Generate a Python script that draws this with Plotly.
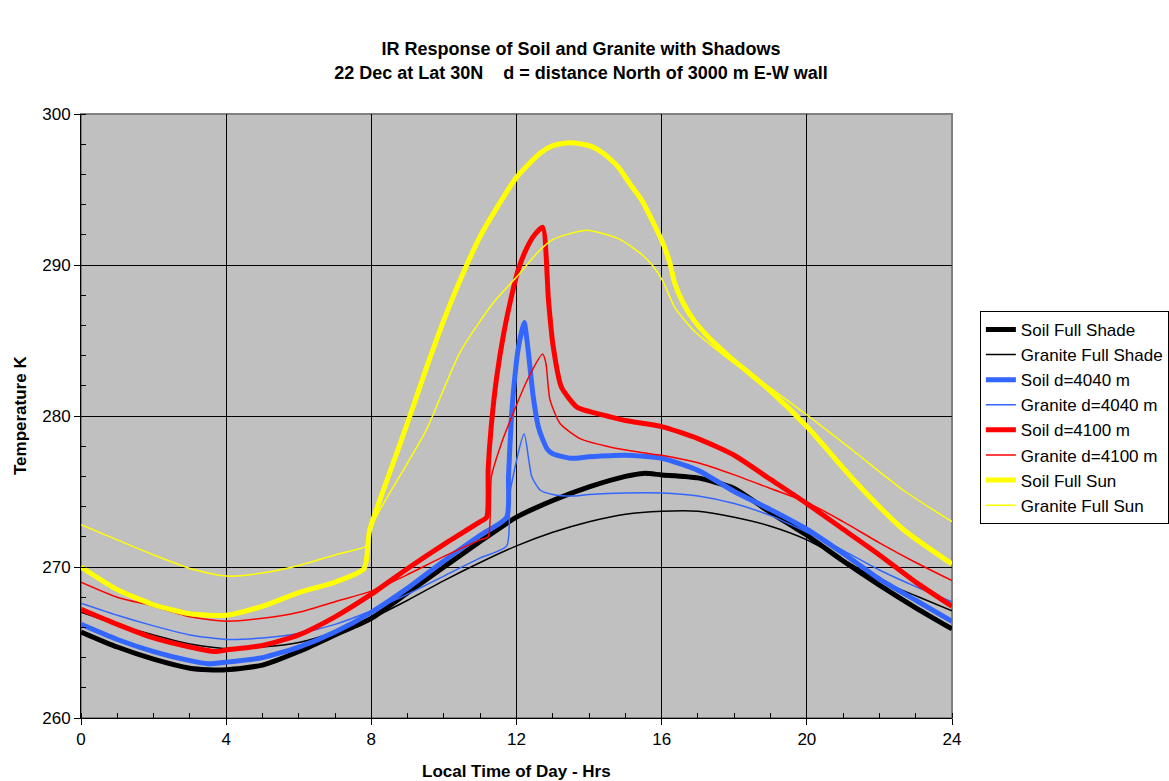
import plotly.graph_objects as go

# Local time (hours) and surface temperature (K) for each series
t_soil_shade = [0, 1, 2, 3, 3.5, 4, 5, 6, 7, 8, 9, 10, 11, 12, 13, 14, 15, 15.5, 16, 17, 18, 19, 20, 21, 22, 23, 24]
soil_shade = [265.7, 264.7, 263.9, 263.3, 263.2, 263.2, 263.5, 264.4, 265.5, 266.6, 268.3, 270.0, 271.7, 273.3, 274.4,
              275.3, 276.0, 276.2, 276.1, 275.9, 275.2, 273.6, 272.1, 270.4, 268.8, 267.3, 265.9]

t_gran_shade = [0, 1, 2, 3, 4, 5, 6, 7, 8, 9, 10, 11, 12, 13, 14, 15, 16, 17, 18, 19, 20, 21, 22, 23, 24]
gran_shade = [267.0, 266.2, 265.5, 264.9, 264.6, 264.7, 265.0, 265.7, 266.6, 267.8, 269.1, 270.3, 271.4, 272.3, 273.0,
              273.5, 273.7, 273.7, 273.3, 272.7, 271.8, 270.5, 269.1, 268.1, 267.1]

t_soil_4040 = [0, 1, 2, 3, 3.5, 4, 5, 6, 7, 8, 9, 10, 11, 11.73, 11.78, 11.85, 11.93, 12.05, 12.21, 12.3, 12.46, 12.6,
               12.73, 12.85, 13.0, 13.5, 14, 15, 16, 17, 18, 19, 20, 21, 22, 23, 24]
soil_4040 = [266.2, 265.2, 264.4, 263.8, 263.6, 263.7, 264.0, 264.7, 265.7, 267.0, 268.6, 270.4, 272.1, 273.3, 276.0,
             279.5, 282.0, 284.5, 286.2, 284.8, 281.3, 279.3, 278.4, 277.8, 277.5, 277.2, 277.3, 277.4, 277.2, 276.4,
             275.0, 273.8, 272.5, 270.9, 269.2, 267.8, 266.4]

t_gran_4040 = [0, 1, 2, 3, 4, 5, 6, 7, 8, 9, 10, 11, 11.73, 11.82, 12.21, 12.42, 12.65, 13.0, 13.5, 14, 15, 16, 17, 18,
               19, 20, 21, 22, 23, 24]
gran_4040 = [267.6, 266.8, 266.1, 265.5, 265.2, 265.3, 265.6, 266.2, 267.1, 268.2, 269.4, 270.6, 271.4, 274.9, 278.8,
             276.0, 275.1, 274.8, 274.7, 274.8, 274.9, 274.9, 274.7, 274.2, 273.4, 272.3, 271.1, 269.8, 268.7, 267.7]

t_soil_4100 = [0, 1, 2, 3, 3.7, 4, 5, 6, 7, 8, 9, 10, 11, 11.18, 11.22, 11.3, 11.45, 11.65, 11.85, 12.05, 12.3, 12.5,
               12.72, 12.88, 13.0, 13.24, 13.66, 14, 14.5, 15, 16, 17, 18, 19, 20, 21, 22, 23, 24]
soil_4100 = [267.2, 266.2, 265.3, 264.7, 264.4, 264.5, 264.8, 265.5, 266.7, 268.2, 269.9, 271.5, 273.0, 273.3, 276.5,
             279.2, 282.5, 285.5, 287.8, 289.7, 291.2, 292.0, 292.5, 287.7, 284.8, 281.9, 280.6, 280.3, 280.0, 279.7,
             279.3, 278.5, 277.4, 275.8, 274.2, 272.5, 270.8, 269.0, 267.4]

t_gran_4100 = [0, 1, 2, 3, 4, 5, 6, 7, 8, 9, 10, 11, 11.22, 11.31, 11.6, 11.91, 12.3, 12.72, 12.81, 12.92, 13.2, 13.75,
               14.66, 15.4, 16, 17, 18, 19, 20, 21, 22, 23, 24]
gran_4100 = [269.0, 268.0, 267.4, 266.7, 266.4, 266.6, 267.0, 267.7, 268.4, 269.5, 270.7, 271.8, 272.0, 276.0, 278.3,
             280.2, 282.4, 284.1, 283.5, 281.1, 279.5, 278.5, 277.9, 277.6, 277.4, 276.9, 276.1, 275.2, 274.3, 273.0,
             271.6, 270.3, 269.1]

t_soil_sun = [0, 1, 2, 3, 4, 5, 6, 7, 7.8, 7.95, 8.5, 9.02, 9.52, 10.07, 10.63, 11.0, 11.36, 12.0, 12.65, 13.0, 13.47,
              14.0, 14.39, 14.8, 15.12, 15.45, 15.77, 16.04, 16.23, 16.36, 16.59, 16.87, 17.3, 17.88, 18.98, 20.04,
              21.28, 22.65, 24]
soil_sun = [270.0, 268.5, 267.5, 266.9, 266.8, 267.4, 268.3, 269.0, 269.9, 272.4, 276.2, 279.7, 283.2, 286.8, 290.0,
            291.9, 293.4, 295.8, 297.4, 297.9, 298.1, 297.9, 297.4, 296.5, 295.4, 294.3, 292.8, 291.4, 290.1, 288.8,
            287.5, 286.4, 285.2, 283.9, 281.7, 279.2, 275.8, 272.5, 270.2]

t_gran_sun = [0, 1, 2, 3, 4, 5, 6, 7, 7.8, 7.87, 8.0, 8.24, 9.0, 9.52, 10.44, 11.36, 12.0, 12.65, 13.01, 13.93, 14.85,
              15.5, 15.77, 16.04, 16.36, 16.87, 17.88, 18.8, 20.04, 21.28, 22.65, 24]
gran_sun = [272.8, 271.8, 270.8, 269.9, 269.4, 269.6, 270.1, 270.8, 271.3, 271.4, 272.6, 273.8, 276.9, 279.1, 284.2,
            287.5, 289.2, 291.0, 291.7, 292.3, 291.7, 290.6, 289.9, 288.9, 287.2, 285.7, 283.7, 282.2, 280.0, 277.7,
            275.1, 273.0]

series = [
    ("Soil Full Shade", t_soil_shade, soil_shade, "#000000", 5),
    ("Granite Full Shade", t_gran_shade, gran_shade, "#000000", 1.5),
    ("Soil d=4040 m", t_soil_4040, soil_4040, "#3366FF", 5),
    ("Granite d=4040 m", t_gran_4040, gran_4040, "#3366FF", 1.5),
    ("Soil d=4100 m", t_soil_4100, soil_4100, "#FF0000", 5),
    ("Granite d=4100 m", t_gran_4100, gran_4100, "#FF0000", 1.5),
    ("Soil Full Sun", t_soil_sun, soil_sun, "#FFFF00", 5),
    ("Granite Full Sun", t_gran_sun, gran_sun, "#FFFF00", 1.5),
]

FONT = "Arial, 'Liberation Sans', sans-serif"

fig = go.Figure()
for name, t, v, color, width in series:
    fig.add_trace(go.Scatter(x=t, y=v, mode="lines", name=name,
                             line=dict(color=color, width=width, shape="spline", smoothing=0.6)))

axis_common = dict(
    showline=True, linecolor="black", linewidth=1,
    showgrid=True, gridcolor="black", gridwidth=1,
    ticks="outside", ticklen=6, tickcolor="black",
    tickfont=dict(family=FONT, size=17, color="black"),
    zeroline=False,
)

fig.update_xaxes(range=[0, 24], tick0=0, dtick=4,
                 minor=dict(ticks="inside", dtick=1, ticklen=5, tickcolor="black", showgrid=False),
                 **axis_common)
fig.update_yaxes(range=[260, 300], tick0=260, dtick=10,
                 minor=dict(ticks="inside", dtick=2, ticklen=5, tickcolor="black", showgrid=False),
                 **axis_common)

# gray frame on top and right of the plotting area
fig.add_shape(type="rect", xref="paper", yref="paper", x0=0, y0=0, x1=1, y1=1,
              line=dict(color="#808080", width=2), layer="below")

fig.add_annotation(text="<b>Local Time of Day - Hrs</b>", xref="paper", yref="paper",
                   x=0.5, y=-0.089, yanchor="middle", showarrow=False,
                   font=dict(family=FONT, size=17, color="black"))
fig.add_annotation(text="<b>Temperature K</b>", xref="paper", yref="paper",
                   x=-0.070, y=0.5, textangle=-90, xanchor="center", yanchor="middle",
                   showarrow=False, font=dict(family=FONT, size=17, color="black"))

fig.update_layout(
    width=1169, height=781,
    margin=dict(l=81, r=217, t=114, b=63, autoexpand=False),
    paper_bgcolor="white", plot_bgcolor="#C0C0C0",
    font=dict(family=FONT, color="black"),
    title=dict(text="<b>IR Response of Soil and Granite with Shadows<br>"
                    "22 Dec at Lat 30N    d = distance North of 3000 m E-W wall</b>",
               x=0.497, xref="container", xanchor="center",
               y=0.929, yref="container", yanchor="middle",
               font=dict(family=FONT, size=18, color="black")),
    legend=dict(x=1.032, y=0.674, xanchor="left", yanchor="top",
                bgcolor="white", bordercolor="black", borderwidth=1,
                font=dict(family=FONT, size=17, color="black"),
                tracegroupgap=0, itemwidth=30),
    showlegend=True,
)

fig.write_html("out.html")
